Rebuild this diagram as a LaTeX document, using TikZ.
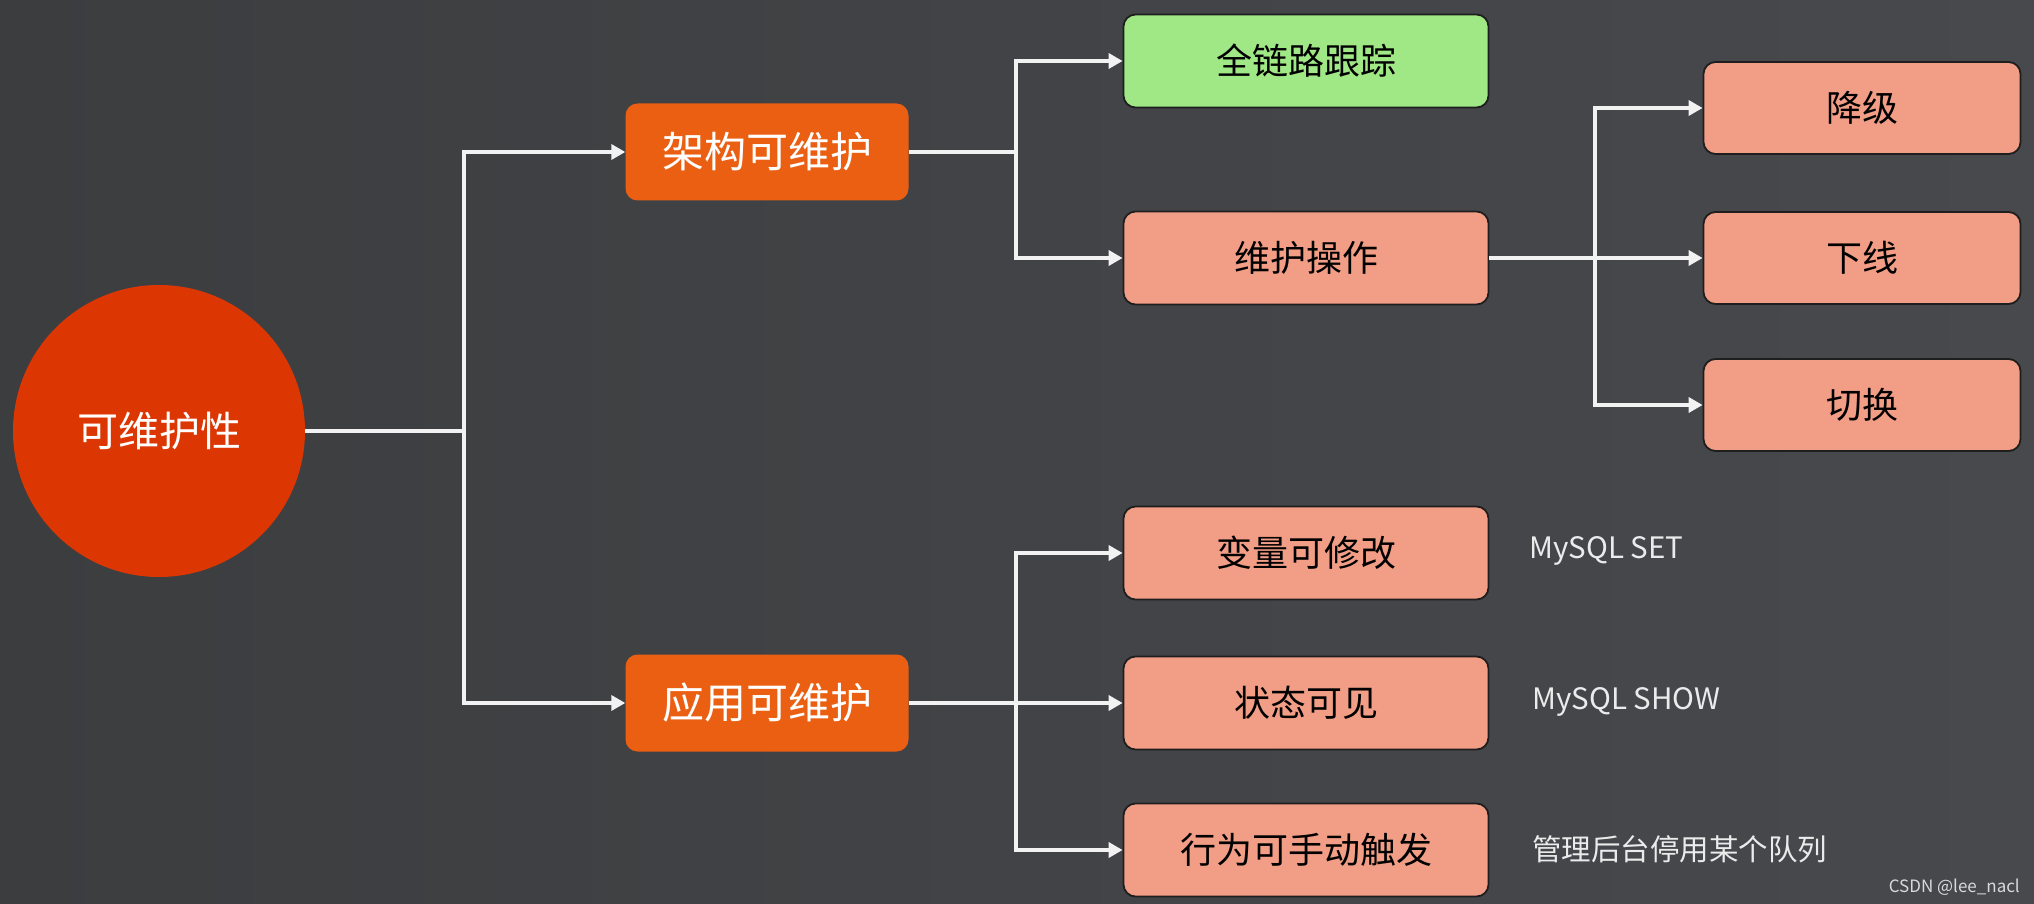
\documentclass[tikz,border=0pt]{standalone}
\usepackage{fontspec}
\setmainfont{Noto Sans CJK SC}
\usetikzlibrary{arrows.meta,positioning}
\definecolor{bgL}{HTML}{3C3D3F}
\definecolor{bgR}{HTML}{48494D}
\definecolor{rootc}{HTML}{DC3703}
\definecolor{orangec}{HTML}{EA5F12}
\definecolor{salmon}{HTML}{F29E86}
\definecolor{greenc}{HTML}{A0E785}
\definecolor{edgec}{HTML}{1E1E1E}
\begin{document}
\begin{tikzpicture}[x=1pt,y=-1pt,
  rootnode/.style={circle,fill=rootc,minimum size=292pt,inner sep=0pt,text=white,font=\fontsize{41}{46}\selectfont},
  midnode/.style={rectangle,rounded corners=12pt,fill=orangec,minimum width=283pt,minimum height=97pt,inner sep=0pt,text=white,font=\fontsize{42}{46}\selectfont},
  leafnode/.style={rectangle,rounded corners=12pt,fill=salmon,draw=edgec,line width=1.8pt,minimum width=365pt,minimum height=93pt,inner sep=0pt,text=black,font=\fontsize{36}{40}\selectfont},
  subleaf/.style={leafnode,minimum width=317pt,minimum height=92pt},
  greenleaf/.style={leafnode,fill=greenc},
  note/.style={anchor=west,inner sep=0pt,text=white!92!black,font=\fontsize{29.5}{33}\selectfont},
  conn/.style={draw=white!95!black,line width=3.5pt},
  arr/.style={conn,-{Triangle[length=14pt,width=15pt]}}
]
\shade[left color=bgL,right color=bgR] (0,0) rectangle (2034,904);
\useasboundingbox (0,0) rectangle (2034,904);

\node[rootnode] (root) at (159,431) {可维护性};
\node[midnode] (arch) at (767,152) {架构可维护};
\node[midnode] (app) at (767,703) {应用可维护};

\node[greenleaf] (trace) at (1306,61) {全链路跟踪};
\node[leafnode] (ops) at (1306,258) {维护操作};
\node[leafnode] (var) at (1306,553) {变量可修改};
\node[leafnode] (state) at (1306,703) {状态可见};
\node[leafnode] (act) at (1306,850) {行为可手动触发};

\node[subleaf] (deg) at (1862,108) {降级};
\node[subleaf] (off) at (1862,258) {下线};
\node[subleaf] (sw) at (1862,405) {切换};

\node[note] (n1) at (1529,551) {MySQL SET};
\node[note] (n2) at (1532,702) {MySQL SHOW};
\node[note] (n3) at (1532,849) {管理后台停用某个队列};
\node[anchor=east,inner sep=0pt,text=white!85!black,font=\fontsize{17}{19}\selectfont] (wm) at (2020,887) {CSDN @lee\_nacl};

\coordinate (j1) at (464,431);
\coordinate (j2) at (1016,152);
\coordinate (j3) at (1595,258);
\coordinate (j4) at (1016,703);

\draw[conn] (root.east) -- (j1);
\draw[arr] (j1) |- (arch.west);
\draw[arr] (j1) |- (app.west);

\draw[conn] (arch.east) -- (j2);
\draw[arr] (j2) |- (trace.west);
\draw[arr] (j2) |- (ops.west);

\draw[conn] (ops.east) -- (j3);
\draw[arr] (j3) |- (deg.west);
\draw[arr] (j3) -- (off.west);
\draw[arr] (j3) |- (sw.west);

\draw[conn] (app.east) -- (j4);
\draw[arr] (j4) |- (var.west);
\draw[arr] (j4) -- (state.west);
\draw[arr] (j4) |- (act.west);
\end{tikzpicture}
\end{document}
